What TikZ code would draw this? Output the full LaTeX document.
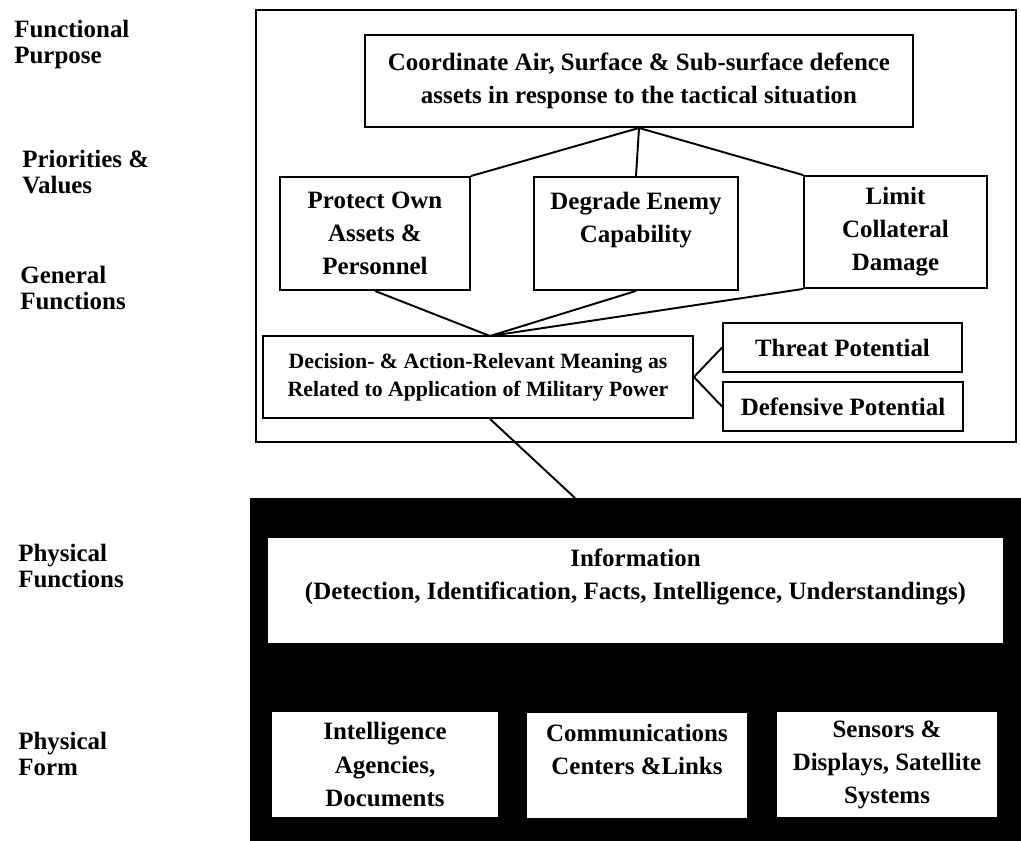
\documentclass[tikz,border=0pt]{standalone}
\usepackage{fontspec}
\setmainfont{Liberation Serif}
\usepackage{tikz}
\usetikzlibrary{positioning, calc}
\newcommand{\boxfont}{\fontsize{14.2}{18.8}\selectfont\bfseries}
\newcommand{\decfont}{\fontsize{12.4}{16}\selectfont\bfseries}
\newcommand{\lvlfont}{\fontsize{14.2}{14.8}\selectfont\bfseries}
\tikzset{
  levelbox/.style={
    draw, line width=1.1pt, fill=white,
    align=center, font=\boxfont, inner sep=2pt
  },
  formbox/.style={fill=white, align=center, font=\boxfont, inner sep=2pt},
  lvllabel/.style={anchor=west, align=left, font=\lvlfont, inner sep=0pt},
  link/.style={line width=1.1pt}
}

\begin{document}
\begin{tikzpicture}[x=0.02cm, y=-0.02cm]
    \useasboundingbox (0,0) rectangle (1021,841);

    % Level names
    \node[lvllabel] (lfp) at (14,45) {Functional\\Purpose};
    \node[lvllabel] (lpv) at (22,172) {Priorities \&\\Values};
    \node[lvllabel] (lgf) at (20,288) {General\\Functions};
    \node[lvllabel] (lpf) at (18,566) {Physical\\Functions};
    \node[lvllabel] (lfm) at (18,754) {Physical\\Form};

    % Abstract levels
    \node[draw, line width=1.1pt, minimum width=15.2cm, minimum height=8.64cm] (upper) at (636,226) {};
    \node[levelbox, minimum width=10.96cm, minimum height=1.84cm] (coord) at (639,81)
        {Coordinate Air, Surface \& Sub-surface defence\\assets in response to the tactical situation};
    \node[levelbox, minimum width=3.8cm, minimum height=2.26cm] (own) at (375,233.5)
        {Protect Own\\Assets \&\\Personnel};
    \node[levelbox, minimum width=4.08cm, minimum height=2.26cm] (enemy) at (636,233.5)
        {Degrade Enemy\\Capability\\~};
    \node[levelbox, minimum width=3.66cm, minimum height=2.24cm] (coll) at (895.5,232)
        {Limit\\Collateral\\Damage};
    \node[levelbox, font=\decfont, minimum width=8.6cm, minimum height=1.64cm] (dec) at (478,377)
        {Decision- \& Action-Relevant Meaning as\\Related to Application of Military Power};
    \node[levelbox, minimum width=4.78cm, minimum height=0.98cm] (threat) at (842.5,347.5) {Threat Potential};
    \node[levelbox, minimum width=4.8cm, minimum height=0.98cm] (defp) at (843,406.5) {Defensive Potential};

    % Physical levels
    \node[fill=black, anchor=north west, minimum width=15.6cm, minimum height=7cm, inner sep=0pt] (phys) at (250,498) {};
    \node[formbox, minimum width=14.7cm, minimum height=2.1cm] (info) at (635.5,590.5)
        {Information\\(Detection, Identification, Facts, Intelligence, Understandings)\\~};
    \node[formbox, minimum width=4.52cm, minimum height=2.1cm] (intel) at (385,764.5)
        {Intelligence\\Agencies,\\Documents};
    \node[formbox, minimum width=4.4cm, minimum height=2.1cm] (comm) at (637,765.5)
        {Communications\\Centers \&Links\\~};
    \node[formbox, minimum width=4.4cm, minimum height=2.1cm] (sens) at (887,764.5)
        {Sensors \&\\Displays, Satellite\\Systems};

    % Links
    \coordinate (hub) at (490,336);
    \draw[link] (coord.south) -- (own.north east);
    \draw[link] (coord.south) -- (enemy.north);
    \draw[link] (coord.south) -- (coll.north west);
    \draw[link] (own.south) -- (hub);
    \draw[link] (enemy.south) -- (hub);
    \draw[link] (coll.south west) -- (hub);
    \draw[link] (dec.east) -- (threat.west);
    \draw[link] (dec.east) -- (defp.west);
    \draw[link] (hub |- dec.south) -- ($(phys.north west)+(325,0)$);
\end{tikzpicture}
\end{document}
